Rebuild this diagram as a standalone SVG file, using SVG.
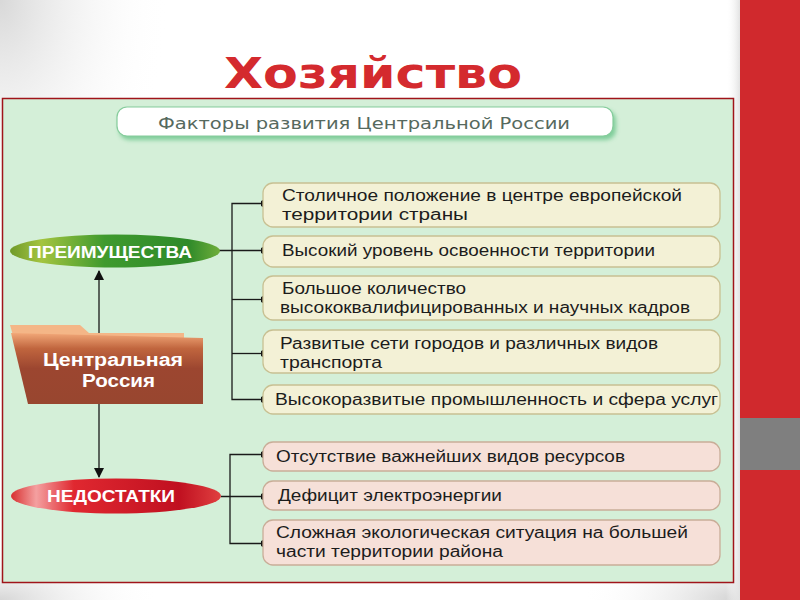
<svg xmlns="http://www.w3.org/2000/svg" width="800" height="600" viewBox="0 0 800 600">
<defs>
  <radialGradient id="gTL" cx="0" cy="0" r="1" gradientUnits="userSpaceOnUse" gradientTransform="translate(0,0) scale(170,260)">
    <stop offset="0" stop-color="#d8d8d8"/><stop offset="1" stop-color="#ffffff" stop-opacity="0"/>
  </radialGradient>
  <radialGradient id="gBL" cx="0" cy="0" r="1" gradientUnits="userSpaceOnUse" gradientTransform="translate(0,600) scale(160,60)">
    <stop offset="0" stop-color="#d6d6d6"/><stop offset="1" stop-color="#ffffff" stop-opacity="0"/>
  </radialGradient>
  <radialGradient id="gBR" cx="0" cy="0" r="1" gradientUnits="userSpaceOnUse" gradientTransform="translate(740,600) scale(160,60)">
    <stop offset="0" stop-color="#d0d0d0"/><stop offset="1" stop-color="#ffffff" stop-opacity="0"/>
  </radialGradient>
  <linearGradient id="gR" x1="0" y1="0" x2="1" y2="0">
    <stop offset="0" stop-color="#ffffff" stop-opacity="0"/><stop offset="1" stop-color="#e2e2e2"/>
  </linearGradient>
  <linearGradient id="gGreen" x1="0" y1="0" x2="1" y2="0">
    <stop offset="0" stop-color="#6f9a2a"/><stop offset="0.15" stop-color="#a4c440"/><stop offset="0.45" stop-color="#3f9a2e"/><stop offset="0.85" stop-color="#2f8a2a"/><stop offset="1" stop-color="#6fae3a"/>
  </linearGradient>
  <linearGradient id="gRed" x1="0" y1="0" x2="1" y2="0">
    <stop offset="0" stop-color="#d83030"/><stop offset="0.12" stop-color="#f4a0a0"/><stop offset="0.3" stop-color="#e02830"/><stop offset="0.8" stop-color="#c01020"/><stop offset="1" stop-color="#e04040"/>
  </linearGradient>
  <linearGradient id="gFolder" x1="0" y1="0" x2="0" y2="1">
    <stop offset="0" stop-color="#f2a878"/><stop offset="0.22" stop-color="#c0653e"/><stop offset="0.5" stop-color="#9c4630"/><stop offset="1" stop-color="#98462f"/>
  </linearGradient>
  <filter id="glow" x="-5%" y="-30%" width="110%" height="170%">
    <feGaussianBlur stdDeviation="2"/>
  </filter>
  <marker id="arr" viewBox="0 0 10 10" refX="9" refY="5" markerWidth="10" markerHeight="10" markerUnits="userSpaceOnUse" orient="auto">
    <path d="M0,0 L10,5 L0,10 z" fill="#111"/>
  </marker>
  <marker id="dot" viewBox="0 0 10 10" refX="5" refY="5" markerWidth="7" markerHeight="7" markerUnits="userSpaceOnUse">
    <circle cx="5" cy="5" r="5" fill="#111"/>
  </marker>
</defs>
<style>
  .pos { fill: #f3f1d6; stroke: #c8c092; stroke-width: 1.3; }
  .neg { fill: #f6e0d8; stroke: #c9ad98; stroke-width: 1.3; }
  .t { font-family: "Liberation Sans", Arial, sans-serif; font-size: 16px; fill: #1c1c1c; }
  .w { font-family: "Liberation Sans", Arial, sans-serif; font-weight: bold; fill: #ffffff; }
  .c { fill: none; stroke: #1a1a1a; stroke-width: 1.3; }
</style>

<!-- background -->
<rect x="0" y="0" width="800" height="600" fill="#ffffff"/>
<rect x="0" y="0" width="400" height="300" fill="url(#gTL)"/>
<rect x="0" y="520" width="300" height="80" fill="url(#gBL)"/>
<rect x="560" y="520" width="180" height="80" fill="url(#gBR)"/>
<rect x="726" y="0" width="14" height="600" fill="url(#gR)"/>
<rect x="740" y="0" width="60" height="600" fill="#d0292d"/>
<rect x="740" y="418" width="60" height="52" fill="#7f7f7f"/>

<!-- title -->
<text x="224" y="88" textLength="298" lengthAdjust="spacingAndGlyphs" font-family="DejaVu Sans, sans-serif" font-weight="bold" font-size="43" fill="#d42a2e">Хозяйство</text>

<!-- panel -->
<rect x="2.5" y="98.5" width="731" height="484" fill="#d4efd8" stroke="#a0141a" stroke-width="1.5"/>

<!-- header -->
<g id="header">
  <rect x="119" y="110" width="497" height="30" rx="10" fill="#5cbf80" opacity="0.7" filter="url(#glow)"/>
  <rect x="117" y="107" width="496" height="29" rx="10" fill="#ffffff" stroke="#86cc9c" stroke-width="1.2"/>
  <text x="158" y="129" textLength="412" lengthAdjust="spacingAndGlyphs" font-family="DejaVu Sans, sans-serif" font-size="16.5" fill="#56695e">Факторы развития Центральной России</text>
</g>

<!-- connectors -->
<g id="connectors">
  <line class="c" x1="99" y1="336" x2="99" y2="271" marker-end="url(#arr)"/>
  <line class="c" x1="99" y1="403" x2="99" y2="477" marker-end="url(#arr)"/>
  <line class="c" x1="219" y1="250.5" x2="264" y2="250.5" marker-end="url(#dot)"/>
  <polyline class="c" points="264,203.5 232,203.5 232,399.5 264,399.5" marker-start="url(#dot)" marker-end="url(#dot)"/>
  <line class="c" x1="232" y1="299.5" x2="264" y2="299.5" marker-end="url(#dot)"/>
  <line class="c" x1="232" y1="353.5" x2="264" y2="353.5" marker-end="url(#dot)"/>
  <line class="c" x1="221" y1="496.5" x2="264" y2="496.5" marker-end="url(#dot)"/>
  <polyline class="c" points="264,454.5 230,454.5 230,543.5 264,543.5" marker-start="url(#dot)" marker-end="url(#dot)"/>
</g>

<!-- central node -->
<g id="central">
  <polygon points="10,325 80,325 89,333 184,333 184,339 14,339" fill="#f4b687"/>
  <polygon points="11,333 203,338 203,404 28,404" fill="url(#gFolder)"/>
  <text class="w" x="43" y="366" font-size="18" textLength="140" lengthAdjust="spacingAndGlyphs" fill="#faf2ea">Центральная</text>
  <text class="w" x="82" y="387" font-size="18" textLength="73" lengthAdjust="spacingAndGlyphs" fill="#faf2ea">Россия</text>
</g>

<g id="advantages">
  <ellipse cx="115" cy="251" rx="105" ry="16.5" fill="url(#gGreen)"/>
  <text class="w" x="28" y="257.5" font-size="16" textLength="164" lengthAdjust="spacingAndGlyphs">ПРЕИМУЩЕСТВА</text>
</g>

<g id="disadvantages">
  <ellipse cx="116" cy="496" rx="105" ry="17.5" fill="url(#gRed)"/>
  <text class="w" x="47" y="502" font-size="16" textLength="128" lengthAdjust="spacingAndGlyphs">НЕДОСТАТКИ</text>
</g>

<!-- positive boxes -->
<g id="p1">
  <rect class="pos" x="263" y="183" width="457" height="44" rx="10"/>
  <text class="t" x="282" y="201" textLength="400" lengthAdjust="spacingAndGlyphs">Столичное положение в центре европейской</text>
  <text class="t" x="282" y="220" textLength="186" lengthAdjust="spacingAndGlyphs">территории страны</text>
</g>
<g id="p2">
  <rect class="pos" x="263" y="236" width="457" height="31" rx="10"/>
  <text class="t" x="282" y="256" textLength="373" lengthAdjust="spacingAndGlyphs">Высокий уровень освоенности территории</text>
</g>
<g id="p3">
  <rect class="pos" x="263" y="276" width="457" height="44" rx="10"/>
  <text class="t" x="282" y="294" textLength="184" lengthAdjust="spacingAndGlyphs">Большое количество</text>
  <text class="t" x="280" y="313" textLength="410" lengthAdjust="spacingAndGlyphs">высококвалифицированных и научных кадров</text>
</g>
<g id="p4">
  <rect class="pos" x="263" y="330" width="457" height="43" rx="10"/>
  <text class="t" x="280" y="349" textLength="378" lengthAdjust="spacingAndGlyphs">Развитые сети городов и различных видов</text>
  <text class="t" x="280" y="368" textLength="102" lengthAdjust="spacingAndGlyphs">транспорта</text>
</g>
<g id="p5">
  <rect class="pos" x="263" y="385" width="457" height="29" rx="10"/>
  <text class="t" x="275" y="405" textLength="443" lengthAdjust="spacingAndGlyphs">Высокоразвитые промышленность и сфера услуг</text>
</g>

<!-- negative boxes -->
<g id="n1">
  <rect class="neg" x="263" y="442" width="457" height="29" rx="10"/>
  <text class="t" x="276" y="462" textLength="349" lengthAdjust="spacingAndGlyphs">Отсутствие важнейших видов ресурсов</text>
</g>
<g id="n2">
  <rect class="neg" x="263" y="481" width="457" height="29" rx="10"/>
  <text class="t" x="278" y="501" textLength="224" lengthAdjust="spacingAndGlyphs">Дефицит электроэнергии</text>
</g>
<g id="n3">
  <rect class="neg" x="263" y="520" width="457" height="45" rx="10"/>
  <text class="t" x="276" y="538" textLength="412" lengthAdjust="spacingAndGlyphs">Сложная экологическая ситуация на большей</text>
  <text class="t" x="276" y="557" textLength="227" lengthAdjust="spacingAndGlyphs">части территории района</text>
</g>
</svg>
